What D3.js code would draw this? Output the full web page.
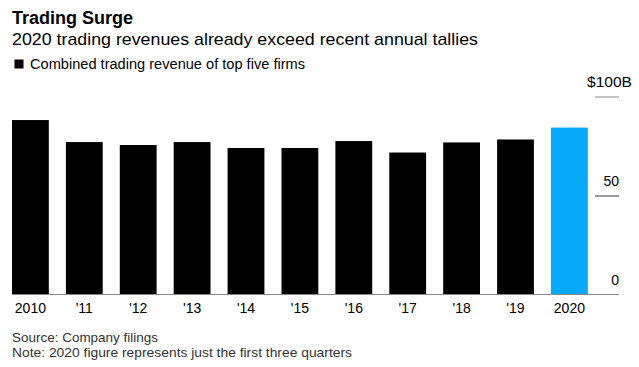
<!DOCTYPE html>
<html>
<head>
<meta charset="utf-8">
<script src="https://cdn.jsdelivr.net/npm/d3@7"></script>
<style>
  html, body { margin: 0; padding: 0; background: #fff; }
  svg { display: block; font-family: "Liberation Sans", Arial, Helvetica, sans-serif; }
</style>
</head>
<body>
<svg id="chart" width="639" height="367"></svg>
<script>
// ---- data ----
const years = ["2010", "'11", "'12", "'13", "'14", "'15", "'16", "'17", "'18", "'19", "2020"];
const revenue = [88.1, 77.0, 75.5, 77.0, 74.0, 74.0, 77.5, 71.7, 76.8, 78.3, 84.3];
const highlight = [false, false, false, false, false, false, false, false, false, false, true];
const yTicks = [0, 50, 100];
const yTickLabels = ["0", "50", "$100B"];

const title = "Trading Surge";
const subtitle = "2020 trading revenues already exceed recent annual tallies";
const legendLabel = "Combined trading revenue of top five firms";
const source = "Source: Company filings";
const note = "Note: 2020 figure represents just the first three quarters";

// ---- layout ----
const svg = d3.select("#chart");
const baseY = 294.5, topY = 96.5;
const x = d3.scaleBand().domain(years).range([12, 587.8]).paddingInner(0.317).paddingOuter(0);
const y = d3.scaleLinear().domain([0, 100]).range([baseY, topY]);

// titles
svg.append("text").attr("x", 12).attr("y", 24)
  .attr("font-size", 18).attr("font-weight", "bold").attr("fill", "#000")
  .attr("textLength", 121).attr("lengthAdjust", "spacingAndGlyphs")
  .text(title);
svg.append("text").attr("x", 12).attr("y", 45)
  .attr("font-size", 17).attr("fill", "#000")
  .attr("textLength", 466).attr("lengthAdjust", "spacingAndGlyphs")
  .text(subtitle);

// legend
svg.append("rect").attr("x", 14.5).attr("y", 59.5).attr("width", 9).attr("height", 9).attr("fill", "#000");
svg.append("text").attr("x", 30).attr("y", 68.5)
  .attr("font-size", 14).attr("fill", "#000")
  .attr("textLength", 275).attr("lengthAdjust", "spacingAndGlyphs")
  .text(legendLabel);

// bars
svg.append("g").selectAll("rect").data(years).join("rect")
  .attr("x", d => x(d))
  .attr("width", x.bandwidth())
  .attr("y", (d, i) => y(revenue[i]))
  .attr("height", (d, i) => baseY - y(revenue[i]))
  .attr("fill", (d, i) => highlight[i] ? "#05a8fa" : "#000");

// baseline
svg.append("line").attr("x1", 12).attr("x2", 619).attr("y1", baseY).attr("y2", baseY)
  .attr("stroke", "#888").attr("stroke-width", 1);

// y axis ticks (right side)
const yAxis = d3.axisRight(y).tickValues(yTicks).tickSize(0).tickFormat((d, i) => yTickLabels[i]);
const yg = svg.append("g").attr("transform", "translate(619,0)").call(yAxis);
yg.select(".domain").remove();
yg.selectAll(".tick text")
  .attr("x", d => d === 100 ? 13 : 0)
  .attr("dy", "-0.68em")
  .attr("text-anchor", "end")
  .attr("font-size", 14)
  .attr("font-family", "'Liberation Sans', Arial, sans-serif")
  .attr("fill", "#000");
yg.selectAll(".tick text").filter(d => d === 100)
  .attr("textLength", 45).attr("lengthAdjust", "spacingAndGlyphs");
yg.selectAll(".tick").filter(d => d !== 0).append("line")
  .attr("x1", -24).attr("x2", 0)
  .attr("stroke", d => d === 100 ? "#888" : "#333").attr("stroke-width", 1);

// x axis labels
const xAxis = d3.axisBottom(x).tickSize(0).tickPadding(0);
const xg = svg.append("g").attr("transform", `translate(0,${baseY})`).call(xAxis);
xg.select(".domain").remove();
xg.selectAll(".tick text")
  .attr("y", 18.5).attr("dy", 0)
  .attr("font-size", 14)
  .attr("font-family", "'Liberation Sans', Arial, sans-serif")
  .attr("fill", "#000");

// footer
svg.append("text").attr("x", 12).attr("y", 342)
  .attr("font-size", 13.5).attr("fill", "#333")
  .attr("textLength", 146).attr("lengthAdjust", "spacingAndGlyphs").text(source);
svg.append("text").attr("x", 12).attr("y", 357)
  .attr("font-size", 13.5).attr("fill", "#333")
  .attr("textLength", 340).attr("lengthAdjust", "spacingAndGlyphs").text(note);
</script>
</body>
</html>
